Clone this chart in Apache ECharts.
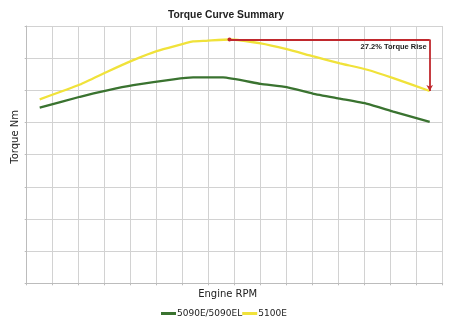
<!DOCTYPE html>
<html>
<head>
<meta charset="utf-8">
<script src="https://cdn.jsdelivr.net/npm/echarts@6/dist/echarts.min.js"></script>
<style>html,body{margin:0;padding:0;background:#fff}#c{width:450px;height:325px}</style>
</head>
<body>
<div id="c"></div>
<script>
// ---- data ----
var titleText = 'Torque Curve Summary';
var xName = 'Engine RPM';
var yName = 'Torque Nm';
var seriesNames = ['5090E/5090EL', '5100E'];
var riseText = '27.2% Torque Rise';

var rpm5100 = [850, 1005, 1110, 1210, 1300, 1440, 1490, 1580, 1700, 1800, 1900, 2005, 2110, 2210, 2350];
var torque5100 = [286, 309, 329, 347, 361, 376, 377, 379, 373, 364, 353, 342, 332, 319, 299];

var rpm5090 = [850, 1005, 1110, 1210, 1365, 1440, 1555, 1700, 1800, 1900, 2005, 2110, 2210, 2350];
var torque5090 = [273, 290, 300, 308, 317, 320, 320, 310, 305, 295, 287, 279, 267, 251];

var xMin = 800, xMax = 2400, xStep = 100;
var yMin = 0, yMax = 400, yStep = 50;

function pairs(xs, ys) { return xs.map(function (x, i) { return [x, ys[i]]; }); }

var peak = Math.max.apply(null, torque5100);
var peakRpm = rpm5100[torque5100.indexOf(peak)];
var endRpm = rpm5100[rpm5100.length - 1];
var endTorque = torque5100[torque5100.length - 1];

var chart = echarts.init(document.getElementById('c'), null, { renderer: 'canvas' });
var red = '#c0282d';
chart.setOption({
  animation: false,
  backgroundColor: '#ffffff',
  title: {
    text: titleText, left: 163, top: 5,
    textStyle: { fontFamily: 'Liberation Sans', fontSize: 10.3, fontWeight: 'bold', color: '#222' }
  },
  grid: { left: 26.7, right: 7.3, top: 26, bottom: 41.7, containLabel: false },
  legend: {
    top: 304, left: 156,
    icon: 'rect', itemWidth: 15, itemHeight: 3, itemGap: 0,
    textStyle: { fontFamily: 'DejaVu Sans', fontSize: 9, color: '#222', padding: [0, 0, 0, -4] },
    data: seriesNames
  },
  xAxis: {
    type: 'value', min: xMin, max: xMax, interval: xStep,
    name: xName, nameLocation: 'middle', nameGap: 6,
    nameTextStyle: { fontFamily: 'DejaVu Sans', fontSize: 10, color: '#222', padding: [0, 14, 0, 0] },
    axisLine: { show: true, lineStyle: { color: '#bcbcbc', width: 1 } },
    axisTick: { show: true, length: 2, lineStyle: { color: '#bcbcbc' } },
    axisLabel: { show: false },
    splitLine: { show: true, lineStyle: { color: '#d2d2d2', width: 1 } }
  },
  yAxis: {
    type: 'value', min: yMin, max: yMax, interval: yStep,
    axisLine: { show: true, lineStyle: { color: '#bcbcbc', width: 1 } },
    axisTick: { show: true, length: 2, lineStyle: { color: '#bcbcbc' } },
    axisLabel: { show: false },
    splitLine: { show: true, lineStyle: { color: '#d2d2d2', width: 1 } }
  },
  graphic: [{
    type: 'text', left: 10, top: 110, rotation: Math.PI / 2,
    style: { text: yName, font: '10px "DejaVu Sans"', fill: '#222' }
  }],
  series: [
    {
      name: seriesNames[0], type: 'line', data: pairs(rpm5090, torque5090),
      showSymbol: false, symbol: 'none', smooth: 0.15,
      lineStyle: { color: '#3a7330', width: 2.3 }, itemStyle: { color: '#3a7330' }
    },
    {
      name: seriesNames[1], type: 'line', data: pairs(rpm5100, torque5100),
      showSymbol: false, symbol: 'none', z: 3, smooth: 0.15,
      lineStyle: { color: '#f0e23a', width: 2.3 }, itemStyle: { color: '#f0e23a' },
      markLine: {
        silent: true, animation: false,
        lineStyle: { color: red, width: 1.8, type: 'solid' },
        label: { show: false },
        data: [
          [
            { coord: [peakRpm, peak], symbol: 'circle', symbolSize: 4,
              label: { show: true, formatter: riseText, position: 'insideEndBottom', distance: [3, 3],
                       fontFamily: 'Liberation Sans', fontSize: 7.5, fontWeight: 'bold', color: '#222' } },
            { coord: [endRpm, peak], symbol: 'none' }
          ],
          [
            { coord: [endRpm, peak], symbol: 'none' },
            { coord: [endRpm, endTorque], symbol: 'arrow', symbolSize: [5, 6] }
          ]
        ]
      }
    }
  ]
});
</script>
</body>
</html>
